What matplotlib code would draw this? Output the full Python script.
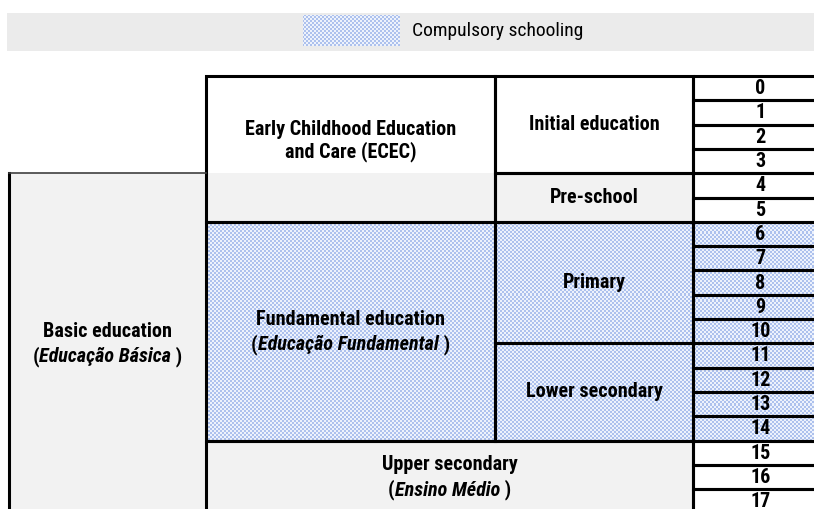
import numpy as np
import matplotlib
matplotlib.use("Agg")
from matplotlib import pyplot as plt
from matplotlib.patches import Rectangle

plt.rcParams['font.family'] = ['Roboto Condensed', 'DejaVu Sans']

# ages shown in the right column
ages = list(range(18))
compulsory_from = 6
compulsory_to = 14

# education levels: label, first column, last column (exclusive), first age, end age (exclusive)
level_names = ["Early Childhood Education\nand Care (ECEC)", "", "Initial education", "Pre-school",
               "Fundamental education", "Primary", "Lower secondary", "Upper secondary", "Basic education"]
level_italic = [None, None, None, None, "Educação Fundamental", None, None, "Ensino Médio", "Educação Básica"]
level_col0 = [1, 1, 2, 2, 1, 2, 2, 1, 0]
level_col1 = [2, 2, 3, 3, 2, 3, 3, 3, 1]
level_age0 = [0, 4, 0, 4, 6, 6, 11, 15, 4]
level_age1 = [4, 6, 4, 6, 15, 11, 15, 18, 18]
level_fill = ["white", "grey", "white", "grey", "hatch", "hatch", "hatch", "grey", "grey"]
legend_label = "Compulsory schooling"

# layout (pixels)
W, H = 814, 509
col_x = [9, 206, 495, 693, 828]
top = 76
row_h = 24.3
fs = 14.5
grey = "#f2f2f2"
lw = 2.2

def ry(a):
    return top + a * row_h

fig = plt.figure(figsize=(W / 100, H / 100), dpi=100)
ax = fig.add_axes([0, 0, 1, 1])
ax.set_xlim(0, W)
ax.set_ylim(H, 0)
ax.axis("off")

# checker texture for compulsory schooling
yy, xx = np.mgrid[0:H, 0:W]
chk = ((xx // 2 + yy // 2) % 2).astype(float)
blue = np.array([0.68, 0.76, 0.93])
light = np.array([0.93, 0.95, 0.99])
tex = light[None, None, :] * (1 - chk[..., None]) + blue[None, None, :] * chk[..., None]

def hatched(x0, y0, x1, y1):
    r = Rectangle((x0, y0), x1 - x0, y1 - y0, facecolor="none", edgecolor="none")
    ax.add_patch(r)
    im = ax.imshow(tex, extent=(0, W, H, 0), interpolation="nearest", zorder=1)
    im.set_clip_path(r)

# legend band
ax.add_patch(Rectangle((7, 13), W - 7, 38, facecolor="#ebebeb", edgecolor="none", zorder=0))
hatched(303, 15, 400, 46)
ax.text(412, 31, legend_label, fontsize=14, ha="left", va="center", zorder=5)

# cell fills
for i in range(len(level_names)):
    x0, x1 = col_x[level_col0[i]], col_x[level_col1[i]]
    y0, y1 = ry(level_age0[i]), ry(level_age1[i])
    if level_fill[i] == "hatch":
        hatched(x0, y0, x1, y1)
    else:
        c = grey if level_fill[i] == "grey" else "white"
        ax.add_patch(Rectangle((x0, y0), x1 - x0, y1 - y0, facecolor=c, edgecolor="none", zorder=1))

for a in ages:
    x0, x1 = col_x[3], col_x[4]
    if compulsory_from <= a <= compulsory_to:
        hatched(x0, ry(a), x1, ry(a + 1))
    ax.add_patch(Rectangle((x0, ry(a)), x1 - x0, row_h, facecolor="none", edgecolor="black",
                           lw=lw, zorder=3, joinstyle="miter"))
    ax.text((x0 + x1) / 2, ry(a + 0.5) + 0.5, str(a), fontsize=fs, weight="bold",
            ha="center", va="center", zorder=5)

# borders
def outline(x0, y0, x1, y1):
    ax.add_patch(Rectangle((x0, y0), x1 - x0, y1 - y0, facecolor="none", edgecolor="black",
                           lw=lw, zorder=3, joinstyle="miter"))

outline(col_x[1], ry(0), col_x[2], ry(6))
for i in [2, 3, 4, 5, 6, 7]:
    outline(col_x[level_col0[i]], ry(level_age0[i]), col_x[level_col1[i]], ry(level_age1[i]))
# basic education box: thick left, thin grey top
ax.plot([col_x[0], col_x[0]], [ry(4), ry(18)], color="black", lw=lw, zorder=3)
ax.plot([col_x[0], col_x[1]], [ry(4), ry(4)], color="#404040", lw=1.2, zorder=3)

# labels
fig.canvas.draw()
renderer = fig.canvas.get_renderer()

def mixed_line(xc, y, pieces):
    objs = []
    for s, st in pieces:
        t = ax.text(0, y, s, fontsize=fs, weight="bold", style=st, ha="left", va="baseline", zorder=5)
        objs.append(t)
    widths = [t.get_window_extent(renderer).width for t in objs]
    x = xc - sum(widths) / 2
    for t, w in zip(objs, widths):
        t.set_x(x)
        x += w

label_y = [2.67, None, 2, 5, 10.5, 8.5, 13, 16.5, 11]
for i, name in enumerate(level_names):
    if not name:
        continue
    xc = (col_x[level_col0[i]] + col_x[level_col1[i]]) / 2
    if i == 7:
        xc = (col_x[1] + col_x[3]) / 2
    yc = ry(label_y[i])
    if level_italic[i]:
        ax.text(xc, yc - 12, name, fontsize=fs, weight="bold", ha="center", va="center", zorder=5)
        mixed_line(xc, yc + 19, [("(", "normal"), (level_italic[i], "italic"), (" )", "normal")])
    else:
        ax.text(xc, yc, name, fontsize=fs, weight="bold", ha="center", va="center",
                linespacing=1.15, zorder=5)

fig.savefig("out.png", dpi=100)
